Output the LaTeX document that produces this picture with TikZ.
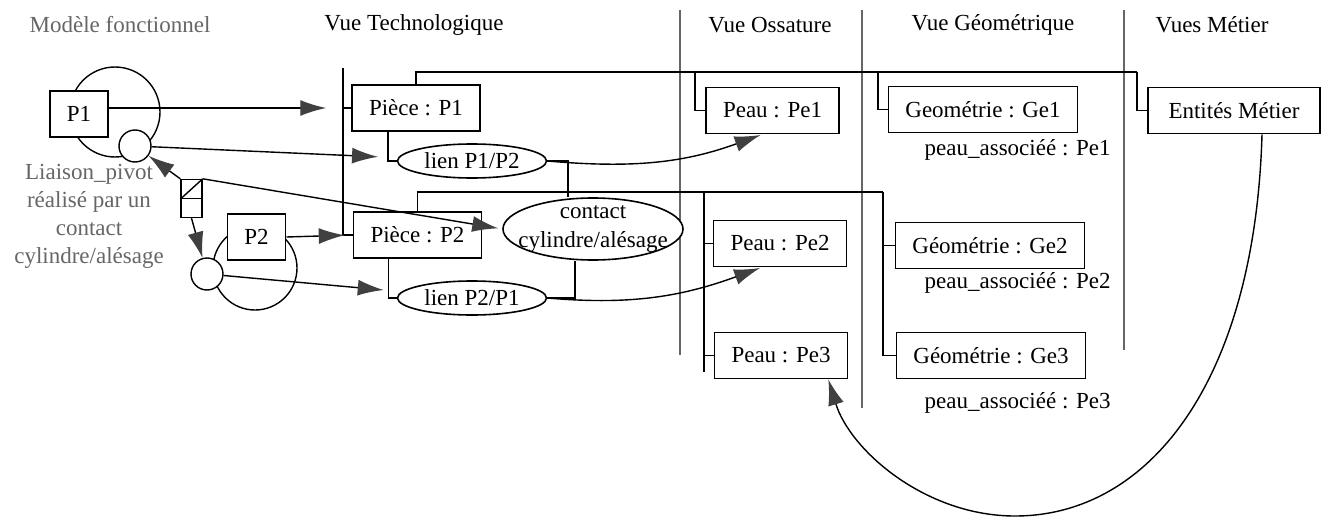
\documentclass[tikz,border=0pt]{standalone}
\usepackage{fontspec}
\setmainfont{Liberation Serif}
\usetikzlibrary{positioning,arrows.meta,shapes.geometric}

\tikzset{
  box/.style={draw, rectangle, fill=white, line width=0.8pt, minimum height=23pt, inner xsep=8.5pt, inner ysep=0pt},
  lien/.style={draw, ellipse, fill=white, line width=0.8pt, inner sep=0pt, minimum width=74.5pt, minimum height=17pt},
  joint/.style={draw, circle, fill=white, line width=0.7pt, inner sep=0pt, minimum size=16pt},
  ring/.style={draw, circle, line width=0.7pt, inner sep=0pt},
  pivot/.style={draw, fill=white, line width=0.7pt, inner sep=0pt, minimum width=10.5pt, minimum height=9.5pt},
  fleche/.style={-{Latex[length=13pt,width=8pt,color=black!75]}, line width=0.7pt},
  divider/.style={draw=black!60, line width=0.6pt},
  faded/.style={text=black!60}
}

\begin{document}
\begin{tikzpicture}[x=0.5pt, y=-0.5pt, font=\fontsize{11.5}{14}\selectfont, line width=0.8pt]
\useasboundingbox (0,0) rectangle (1327,519);

% titles and columns
\node[faded] (title-0) at (120,25) {Modèle fonctionnel};
\foreach \t/\x [count=\i] in {Vue Technologique/414, Vue Ossature/770, Vue Géométrique/993, Vues Métier/1212}
  \node (title-\i) at (\x,25) {\t};

\foreach \x/\yb in {680/355, 862/408, 1124/350}
  \draw[divider] (\x,10) -- (\x,\yb);

% functional model
\node[ring, minimum size=45pt] (ring-1) at (115,112) {};
\node[ring, minimum size=42pt] (ring-2) at (255,268) {};
\node[box] (P1) at (79,114) {P1};
\node[box] (P2) at (256.5,237) {P2};
\node[joint] (joint-1) at (135,146) {};
\node[joint] (joint-2) at (207,274) {};
\node[pivot] (pivot-a) at (191.5,189) {};
\node[pivot] (pivot-b) at (191.5,208) {};
\draw[line width=0.7pt] (pivot-a.south west) -- (pivot-a.north east);
\node[faded, align=center] (liaison) at (89,216) {Liaison\_pivot\\réalisé par un\\contact\\cylindre/alésage};

% technological view
\node[box] (piece-1) at (416,108) {Pièce : P1};
\node[box] (piece-2) at (417.5,235) {Pièce : P2};
\node[lien] (lien-12) at (472,161) {lien P1/P2};
\node[lien] (lien-21) at (472,298) {lien P2/P1};
\node[lien, minimum width=90pt, minimum height=31pt] (contact) at (593,229) {};
\node[align=center, font=\fontsize{11.5}{14.5}\selectfont] (contact-txt) at (contact.center) {contact\\cylindre/alésage};

% other views
\foreach \n/\x/\y in {1/772.5/110.5, 2/780/243.5, 3/781/355.5}
  \node[box] (peau-\n) at (\x,\y) {Peau : Pe\n};
\foreach \n/\t/\x/\y in {1/Geométrie/983/109.5, 2/Géométrie/990/245.5, 3/Géométrie/991/355.5}
  \node[box] (geo-\n) at (\x,\y) {\t\ : Ge\n};
\foreach \n/\y in {1/150, 2/283, 3/403}
  \node[anchor=east] (assoc-\n) at (1118,\y) {peau\_associéé : Pe\n};
\node[box, minimum width=86pt] (entites) at (1234,110.5) {Entités Métier};

% tree lines
\coordinate (tech-top) at (343,68);
\draw (tech-top) |- (piece-2.west);
\draw (tech-top |- piece-1.west) -- (piece-1.west);
\draw (piece-1.north) |- (1137,72);
\draw (entites.west) -| (1137,72);
\draw (peau-1.west) -| (695,72);
\draw (geo-1.west) -| (878,72);
\draw (piece-2.north) |- (883,192);
\draw (geo-3.west) -| (883,192);
\draw (geo-2.west) -- ++(-12,0);
\draw (704,192) -- (704,372);
\draw (peau-2.west) -- ++(-9,0);
\draw (peau-3.west) -- ++(-9,0);
\draw ([xshift=-14pt]piece-1.south) |- (lien-12.west);
\draw ([xshift=-14.5pt]piece-2.south) |- (lien-21.west);
\draw (lien-12.east) -| ([xshift=-12.5pt]contact.north);
\draw ([xshift=-9pt]contact.south) |- (lien-21.east);

% arrows
\draw[fleche, shorten >=12.5pt] (P1.east |- piece-1.west) -- (piece-1.west);
\draw[fleche, shorten >=10pt] (joint-1) -- (lien-12);
\draw[fleche] (pivot-a.north west) -- (joint-1);
\draw[fleche] (pivot-b.south) -- (joint-2);
\draw[fleche, shorten >=2pt] (pivot-a.north east) -- (contact.west);
\draw[fleche, shorten >=4pt] (P2.east) -- (piece-2.west);
\draw[fleche, shorten >=9pt] (joint-2) -- (lien-21);
\draw[fleche, shorten >=1pt] (lien-12.east) to[out=-5, in=200] ([xshift=-5pt]peau-1.south);
\draw[fleche, shorten >=1pt] (lien-21.east) to[out=-5, in=200] ([xshift=-9pt]peau-2.south);
\draw[fleche] ([xshift=14pt]entites.south) .. controls (1255,380) and (1150,516) .. (1015,516)
  .. controls (925,516) and (850,450) .. ([xshift=-10pt]peau-3.south east);

\end{tikzpicture}
\end{document}
